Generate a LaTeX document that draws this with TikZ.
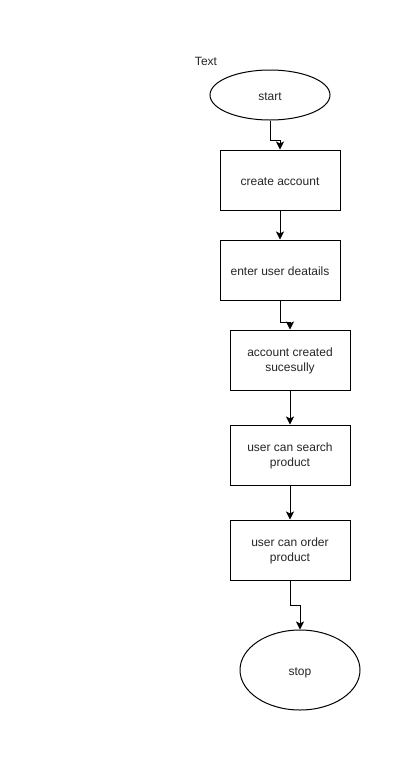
\documentclass[tikz,border=0pt]{standalone}
\usepackage{fontspec}
\setmainfont{Liberation Sans}
\usetikzlibrary{arrows.meta,shapes.geometric}
\begin{document}
\begin{tikzpicture}[x=1pt,y=-1pt,
  every node/.style={font=\fontsize{12}{15}\selectfont, text=black!85},
  proc/.style={draw, line width=1pt, minimum width=120pt, minimum height=60pt, align=center, inner sep=0pt},
  oneline/.style={text height=11pt, text depth=0pt},
  twoline/.style={text depth=0pt},
  term/.style={draw, line width=1pt, ellipse, inner sep=0pt},
  conn/.style={line width=1pt, -{Stealth[length=8pt,width=8pt,inset=2pt]}},
  plain/.style={inner sep=0pt}]
\useasboundingbox[fill=white] (0,0) rectangle (411,761);
\node[plain] (lbl) at (206,61) {Text};
\node[term, oneline, text height=10pt, minimum width=120pt, minimum height=50pt] (start) at (270,95) {start};
\node[proc, oneline] (b1) at (280,180) {create account};
\node[proc, oneline, text height=10pt] (b2) at (280,270) {enter user deatails};
\node[proc, twoline] (b3) at (290,360) {account created\\sucesully};
\node[proc, twoline] (b4) at (290,455) {user can search\\product};
\node[proc, twoline] (b5) at (290,550) {user can order\\product};
\node[term, text height=11pt, text depth=0pt, minimum width=120pt, minimum height=80pt] (stop) at (300,670) {stop};
\draw[conn] (start.south) -- ++(0,20) -| (b1.north);
\draw[conn] (b1) -- (b2);
\draw[conn] (b2.south) -- ++(0,22) -| (b3.north);
\draw[conn] (b3) -- (b4);
\draw[conn] (b4) -- (b5);
\draw[conn] (b5.south) -- ++(0,25) -| (stop.north);
\end{tikzpicture}
\end{document}
